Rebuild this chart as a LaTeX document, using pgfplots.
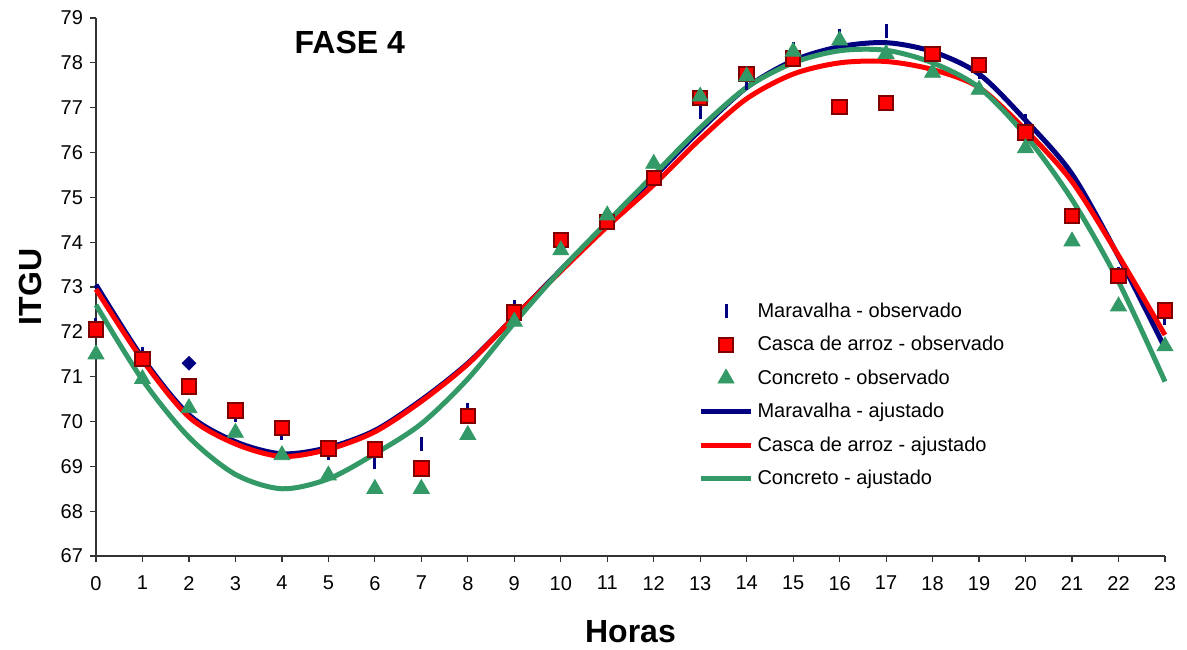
\documentclass[border=0pt]{standalone}
\usepackage{pgfplots}
\usepackage{pgfplotstable}
\pgfplotsset{compat=1.18}
\usepackage{fontspec}
\setmainfont{Liberation Sans}
\definecolor{mnavy}{HTML}{000080}
\definecolor{mred}{HTML}{FF0000}
\definecolor{mdred}{HTML}{800000}
\definecolor{mgreen}{HTML}{339966}

\pgfplotstableread{
x mar cas con
0 72.15 72.05 71.5
1 71.5 71.4 70.95
2 nan 70.78 70.3
3 70.15 70.25 69.75
4 69.75 69.85 69.25
5 69.3 69.4 68.8
6 69.1 69.38 68.5
7 69.5 68.95 68.5
8 70.25 70.12 69.7
9 72.55 72.43 72.23
10 74.0 74.05 73.82
11 74.45 74.45 74.6
12 75.4 75.43 75.75
13 76.9 77.22 77.25
14 77.55 77.75 77.7
15 78.3 78.1 78.25
16 78.6 77.02 78.5
17 78.7 77.1 78.2
18 78.2 78.2 77.78
19 77.8 77.95 77.4
20 76.7 76.45 76.1
21 74.6 74.58 74.02
22 73.3 73.24 72.57
23 72.3 72.48 71.68
}\obs

\pgfplotstableread{
x mar cas con
0 73.05 72.95 72.6
1 71.42 71.37 70.93
2 70.15 70.1 69.65
3 69.55 69.5 68.82
4 69.28 69.22 68.5
5 69.42 69.38 68.72
6 69.8 69.77 69.28
7 70.48 70.45 69.95
8 71.3 71.28 70.95
9 72.33 72.33 72.2
10 73.38 73.35 73.38
11 74.42 74.35 74.45
12 75.45 75.28 75.5
13 76.5 76.3 76.55
14 77.45 77.2 77.45
15 78.05 77.75 78.0
16 78.36 78.0 78.27
17 78.45 78.03 78.28
18 78.25 77.85 78.0
19 77.75 77.45 77.45
20 76.72 76.5 76.38
21 75.52 75.35 74.95
22 73.68 73.7 73.12
23 71.64 71.93 70.89
}\fit

\begin{document}
\begin{tikzpicture}
\begin{axis}[
  scale only axis, width=534.5pt, height=269pt,
  xmin=0, xmax=23, ymin=67, ymax=79,
  xtick={0,...,23}, ytick={67,...,79},
  axis x line*=bottom, axis y line*=left,
  axis line style={-, line width=0.6pt, black!80},
  tick align=outside, major tick length=3pt,
  tick style={black!80, line width=0.6pt},
  /pgf/number format/assume math mode=true,
  tick label style={font=\fontsize{10}{12}\selectfont},
  xticklabel style={yshift=-3.5pt},
  clip=false,
  xlabel={Horas}, ylabel={ITGU},
  xlabel style={at={(rel axis cs:0.5,-0.141)}, anchor=center, font=\bfseries\fontsize{16}{19}\selectfont},
  ylabel style={at={(rel axis cs:-0.0617,0.5)}, anchor=center, font=\bfseries\fontsize{16}{19}\selectfont},
  legend style={at={(rel axis cs:0.5633,0.474)}, anchor=north west, draw=none, fill=none,
    inner sep=0pt, row sep=6.75pt, column sep=2pt, font=\fontsize{10}{12}\selectfont,
    nodes={inner sep=0pt, text height=8pt, text depth=2pt}},
  legend cell align=left,
  legend image code/.code={\draw[mark repeat=2,mark phase=2,#1] plot coordinates {(0pt,0pt) (12.5pt,0pt) (25pt,0pt)};},
]
\path (rel axis cs:-0.0898,-0.1673) rectangle (rel axis cs:1.0206,1.0335);

\addplot[only marks, mark=|, mark size=3.5pt, mnavy, line width=1.5pt] table[x=x,y=mar] {\obs};
\addlegendentry{Maravalha - observado}
\addplot[only marks, mark=square*, mark size=3.6pt, mark options={fill=mred, draw=mdred, line width=1pt}] table[x=x,y=cas] {\obs};
\addlegendentry{Casca de arroz - observado}
\addplot[only marks, mark=triangle*, mark size=4.6pt, mark options={fill=mgreen, draw=mgreen}] table[x=x,y=con] {\obs};
\addlegendentry{Concreto - observado}
\addplot[forget plot, only marks, mark=square*, mark size=2.4pt, mark options={rotate=45, fill=mnavy, draw=mnavy}] coordinates {(2,71.3)};

\addplot[mnavy, line width=2.5pt, smooth, no marks] table[x=x,y=mar] {\fit};
\addlegendentry{Maravalha - ajustado}
\addplot[mred, line width=2.5pt, smooth, no marks] table[x=x,y=cas] {\fit};
\addlegendentry{Casca de arroz - ajustado}
\addplot[mgreen, line width=2.5pt, smooth, no marks] table[x=x,y=con] {\fit};
\addlegendentry{Concreto - ajustado}

\node[font=\bfseries\fontsize{16}{19}\selectfont] at (axis cs:5.46,78.45) {FASE 4};
\end{axis}
\end{tikzpicture}
\end{document}
